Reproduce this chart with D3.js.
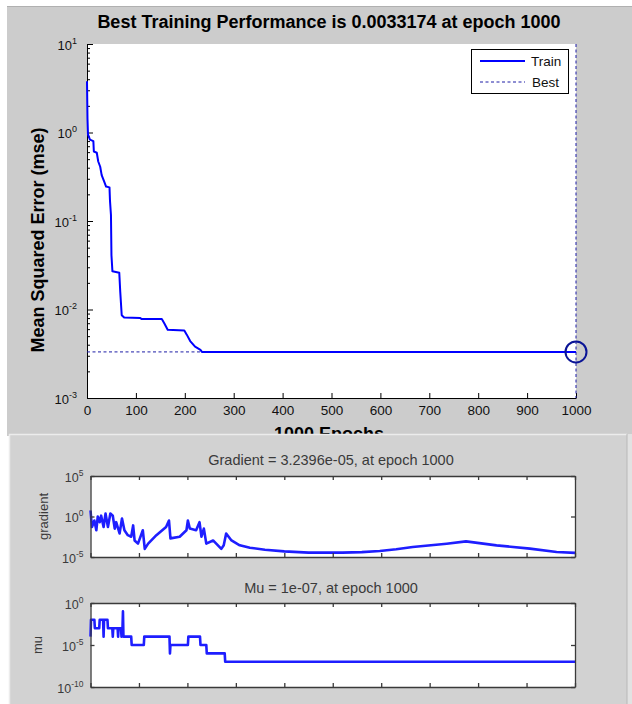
<!DOCTYPE html>
<html><head><meta charset="utf-8">
<script src="https://cdn.jsdelivr.net/npm/d3@7"></script>
<style>html,body{margin:0;padding:0;background:#fff;} svg{display:block;font-family:Arial,"Liberation Sans",sans-serif;}</style>
</head><body><svg id="c" width="632" height="704"></svg>
<script>
// ---------------- data ----------------
const trainEpochs = [0, 1, 2, 6, 13, 14, 20, 23, 27, 30, 35, 39, 46, 47, 49, 50, 52, 66, 68, 71, 76, 109, 112, 153, 158, 165, 199, 204, 211, 221, 232, 235, 1000];
const trainMSE = [3.8, 1.43, 0.95, 0.83, 0.80, 0.61, 0.59, 0.47, 0.41, 0.33, 0.28, 0.245, 0.24, 0.17, 0.117, 0.041, 0.027, 0.026, 0.0158, 0.0086, 0.0081, 0.0080, 0.0078, 0.0078, 0.0070, 0.0059, 0.0058, 0.0052, 0.0044, 0.0038, 0.0035, 0.0033174, 0.0033174];
const bestEpoch = 1000;
const bestMSE = 0.0033174;

const gradEpochs = [0, 3, 8, 12, 15, 19, 22, 27, 31, 36, 41, 46, 50, 53, 60, 65, 70, 77, 84, 88, 91, 98, 108, 112, 119, 136, 156, 162, 165, 184, 198, 201, 205, 218, 225, 229, 234, 239, 253, 270, 275, 280, 291, 308, 329, 360, 400, 450, 520, 560, 597, 631, 665, 735, 775, 838, 907, 962, 1000];
const gradValues = [5.5, 0.05, 0.32, 0.02, 1.0, 0.2, 1.26, 0.05, 2.3, 0.05, 2.3, 1.26, 0.032, 0.2, 0.008, 0.56, 0.02, 0.005, 0.0032, 0.079, 0.0011, 4.5e-4, 0.02, 1e-4, 4.5e-4, 0.005, 0.05, 0.32, 0.002, 0.0032, 0.02, 0.32, 0.032, 0.02, 0.2, 0.0032, 0.032, 4.5e-4, 0.0011, 1e-4, 2.8e-4, 0.008, 0.0011, 2.8e-4, 1.4e-4, 7.9e-5, 5e-5, 3.5e-5, 3.5e-5, 4e-5, 5.5e-5, 8.9e-5, 1.7e-4, 4.4e-4, 8.5e-4, 2.75e-4, 1.07e-4, 4.2e-5, 3.2396e-5];

const muEpochs = [0, 1, 8, 9, 18, 19, 26, 27, 28, 35, 36, 45, 46, 47, 56, 57, 58, 63, 64, 65, 66, 67, 68, 84, 85, 110, 111, 163, 164, 165, 201, 202, 226, 227, 239, 240, 277, 278, 1000];
const muValues = [1e-4, 1e-2, 1e-2, 1e-3, 1e-3, 1e-2, 1e-2, 1e-4, 1e-2, 1e-2, 1e-3, 1e-3, 1e-4, 1e-3, 1e-3, 1e-4, 1e-3, 1e-3, 1e-4, 1e-3, 1e-3, 1e-1, 1e-4, 1e-4, 1e-5, 1e-5, 1e-4, 1e-4, 1e-6, 1e-5, 1e-5, 1e-4, 1e-4, 1e-5, 1e-5, 1e-6, 1e-6, 1e-7, 1e-7];

const epochTicks = [0, 100, 200, 300, 400, 500, 600, 700, 800, 900, 1000];
const mseTicks = [1e1, 1e0, 1e-1, 1e-2, 1e-3];
const gradTicks = [1e5, 1e0, 1e-5];
const muTicks = [1e0, 1e-5, 1e-10];

const titleText = "Best Training Performance is 0.0033174 at epoch 1000";
const xLabelText = "1000 Epochs";
const yLabelText = "Mean Squared Error  (mse)";
const legendLabels = ["Train", "Best"];
const gradTitle = "Gradient = 3.2396e-05, at epoch 1000";
const muTitle = "Mu = 1e-07, at epoch 1000";

// ---------------- drawing ----------------
const svg = d3.select("#c");
svg.append("rect").attr("width", 632).attr("height", 704).attr("fill", "#fff");

// top figure panel
svg.append("rect").attr("x", 7).attr("y", 6).attr("width", 625).attr("height", 430).attr("fill", "#cccccc");
svg.append("line").attr("x1", 7).attr("x2", 632).attr("y1", 6.5).attr("y2", 6.5).attr("stroke", "#b0b0b0");

const xT = d3.scaleLinear().domain([0, 1000]).range([87, 576]);
const yT = d3.scaleLog().domain([1e-3, 1e1]).range([398, 44]);

svg.append("rect").attr("x", xT(0)).attr("y", yT(1e1)).attr("width", xT(1000) - xT(0)).attr("height", yT(1e-3) - yT(1e1)).attr("fill", "#fff");

function supText(sel, size, supSize, dyUp) {
  sel.each(function(d) {
    const t = d3.select(this);
    const e = Math.round(Math.log10(d));
    t.text("10");
    t.append("tspan").attr("dy", -dyUp).attr("font-size", supSize).text(String(e));
  });
}

// top y axis (major)
const gyT = svg.append("g").attr("transform", `translate(${xT(0)},0)`)
  .call(d3.axisLeft(yT).tickValues(mseTicks).tickSizeInner(-6).tickSizeOuter(0).tickPadding(10).tickFormat(() => ""));
gyT.selectAll("text").attr("font-size", 13).attr("font-family", "Arial, 'Liberation Sans', sans-serif").attr("fill", "#111").attr("dy", "0.4em").call(supText, 13, 9, 6);
// minor
const minorT = yT.ticks().filter(v => Math.abs(Math.log10(v) - Math.round(Math.log10(v))) > 1e-6);
svg.append("g").attr("transform", `translate(${xT(0)},0)`)
  .call(d3.axisLeft(yT).tickValues(minorT).tickSizeInner(-3).tickSizeOuter(0).tickFormat(""))
  .call(g => g.select(".domain").remove());
svg.selectAll("g .domain, g .tick line").attr("stroke", "#000");

// top x axis
const gxT = svg.append("g").attr("transform", `translate(0,${yT(1e-3)})`)
  .call(d3.axisBottom(xT).tickValues(epochTicks).tickSizeInner(-5).tickSizeOuter(0).tickPadding(7).tickFormat(d3.format("d")));
gxT.selectAll("text").attr("font-size", 13.5).attr("font-family", "Arial, 'Liberation Sans', sans-serif").attr("fill", "#111");
gxT.selectAll(".domain, .tick line").attr("stroke", "#000");

// best lines
const bestColor = "#1d1da6";
svg.append("line").attr("x1", xT(0)).attr("x2", xT(bestEpoch)).attr("y1", yT(bestMSE)).attr("y2", yT(bestMSE))
  .attr("stroke", bestColor).attr("stroke-width", 1).attr("stroke-dasharray", "3,2.5");
svg.append("line").attr("x1", xT(bestEpoch)).attr("x2", xT(bestEpoch)).attr("y1", yT(1e1)).attr("y2", yT(1e-3))
  .attr("stroke", bestColor).attr("stroke-width", 1).attr("stroke-dasharray", "3,2.5");

// train line
const lineT = d3.line().x(d => xT(d[0])).y(d => yT(d[1]));
svg.append("path").datum(d3.zip(trainEpochs, trainMSE)).attr("d", lineT)
  .attr("fill", "none").attr("stroke", "#0000ff").attr("stroke-width", 2).attr("stroke-linejoin", "round");

// best circle
svg.append("circle").attr("cx", xT(bestEpoch)).attr("cy", yT(bestMSE)).attr("r", 10.5)
  .attr("fill", "none").attr("stroke", "#0a1496").attr("stroke-width", 2);

// legend
const lg = svg.append("g");
lg.append("rect").attr("x", 471.5).attr("y", 49.5).attr("width", 97).attr("height", 44).attr("fill", "#fff").attr("stroke", "#000");
lg.append("line").attr("x1", 480).attr("x2", 525).attr("y1", 61).attr("y2", 61).attr("stroke", "#0000ff").attr("stroke-width", 2);
lg.append("line").attr("x1", 480).attr("x2", 525).attr("y1", 82).attr("y2", 82).attr("stroke", bestColor).attr("stroke-width", 1).attr("stroke-dasharray", "3,2.5");
lg.append("text").attr("x", 531).attr("y", 66).attr("font-size", 13.5).attr("fill", "#111").text(legendLabels[0]);
lg.append("text").attr("x", 532).attr("y", 87).attr("font-size", 13.5).attr("fill", "#111").text(legendLabels[1]);

// titles / labels
svg.append("text").attr("x", 329).attr("y", 28).attr("text-anchor", "middle").attr("font-size", 18).attr("font-weight", "bold").attr("fill", "#000").text(titleText);
svg.append("text").attr("transform", "translate(44,240) rotate(-90)").attr("text-anchor", "middle").attr("font-size", 18).attr("font-weight", "bold").attr("fill", "#000").text(yLabelText);
svg.append("text").attr("x", 329).attr("y", 440).attr("text-anchor", "middle").attr("font-size", 18).attr("font-weight", "bold").attr("fill", "#000").text(xLabelText);

// ---------------- lower panel ----------------
svg.append("rect").attr("x", 9).attr("y", 434).attr("width", 623).attr("height", 270).attr("fill", "#e2e2e2");
svg.append("rect").attr("x", 9).attr("y", 434).attr("width", 618).attr("height", 270).attr("fill", "#d2d2d2");
svg.append("line").attr("x1", 9).attr("x2", 627).attr("y1", 434.5).attr("y2", 434.5).attr("stroke", "#ececec").attr("stroke-width", 1.5);
svg.append("line").attr("x1", 9.5).attr("x2", 9.5).attr("y1", 434).attr("y2", 704).attr("stroke", "#ececec").attr("stroke-width", 1.5);
svg.append("line").attr("x1", 627).attr("x2", 627).attr("y1", 434).attr("y2", 704).attr("stroke", "#b8b8b8").attr("stroke-width", 1);

const xL = d3.scaleLinear().domain([0, 1000]).range([90.5, 575]);
const axisColor = "#3a3a3a";
const textColor = "#3a3a3a";

function lowerPanel(yScale, ticks, epochs, values, title, titleY, label, labelX) {
  const [yb, yt] = yScale.range();
  const g = svg.append("g");
  g.append("rect").attr("x", xL(0)).attr("y", yt).attr("width", xL(1000) - xL(0)).attr("height", yb - yt).attr("fill", "#fff");
  const line = d3.line().x(d => xL(d[0])).y(d => yScale(d[1]));
  g.append("path").datum(d3.zip(epochs, values)).attr("d", line)
    .attr("fill", "none").attr("stroke", "#1e1eff").attr("stroke-width", 2.6).attr("stroke-linejoin", "round");
  const ax = [
    g.append("g").attr("transform", `translate(0,${yb})`).call(d3.axisBottom(xL).tickValues(epochTicks).tickSizeInner(-4).tickSizeOuter(0).tickFormat("")),
    g.append("g").attr("transform", `translate(0,${yt})`).call(d3.axisTop(xL).tickValues(epochTicks).tickSizeInner(-4).tickSizeOuter(0).tickFormat("")),
    g.append("g").attr("transform", `translate(${xL(1000)},0)`).call(d3.axisRight(yScale).tickValues(ticks).tickSizeInner(-4).tickSizeOuter(0).tickFormat(""))
  ];
  const ly = g.append("g").attr("transform", `translate(${xL(0)},0)`).call(d3.axisLeft(yScale).tickValues(ticks).tickSizeInner(-4).tickSizeOuter(0).tickPadding(7).tickFormat(() => ""));
  ax.push(ly);
  ax.forEach(a => a.selectAll(".domain, .tick line").attr("stroke", axisColor).attr("stroke-width", 1.3));
  ly.selectAll("text").attr("font-size", 12.5).attr("font-family", "Arial, 'Liberation Sans', sans-serif").attr("fill", textColor).attr("dy", "0.4em").call(supText, 12.5, 8.5, 6);
  g.append("text").attr("x", 331).attr("y", titleY).attr("text-anchor", "middle").attr("font-size", 14.5).attr("fill", textColor).text(title);
  g.append("text").attr("transform", `translate(${labelX},${(yt + yb) / 2}) rotate(-90)`).attr("text-anchor", "middle").attr("font-size", 13).attr("fill", textColor).text(label);
}

const yG = d3.scaleLog().domain([1e-5, 1e5]).range([557, 476]);
lowerPanel(yG, gradTicks, gradEpochs, gradValues, gradTitle, 465, "gradient", 48);
const yM = d3.scaleLog().domain([1e-10, 1e0]).range([687, 603]);
lowerPanel(yM, muTicks, muEpochs, muValues, muTitle, 593, "mu", 42);
</script>
</body></html>
